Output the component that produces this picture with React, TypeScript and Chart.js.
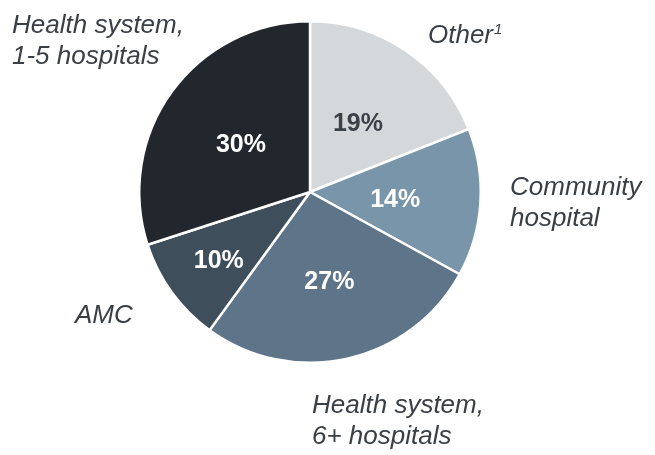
import React, { useEffect, useRef } from "react";
import { Chart, registerables } from "chart.js";

Chart.register(...registerables);

const categories = ["Other", "Community hospital", "Health system, 6+ hospitals", "AMC", "Health system, 1-5 hospitals"];
const shares = [19, 14, 27, 10, 30];
const sliceColors = ["#d5d8da", "#7995a9", "#5e7488", "#3f4e5b", "#22272e"];
const pctColors = ["#3b4148", "#ffffff", "#ffffff", "#ffffff", "#ffffff"];
const outsideLines = [["Other"], ["Community", "hospital"], ["Health system,", "6+ hospitals"], ["AMC"], ["Health system,", "1-5 hospitals"]];
const superscripts = ["1", "", "", "", ""];

// label placement relative to pie centre (layout only)
const labelOffsets = [
  { dx: 118, dy: -149 },
  { dx: 200, dy: 3 },
  { dx: 2, dy: 221 },
  { dx: -235, dy: 131 },
  { dx: -298, dy: -159 },
];
const pctRadius = [0.5, 0.5, 0.52, 0.66, 0.5];

const labelPlugin = {
  id: "labels",
  afterDraw(chart: any) {
    const ctx = chart.ctx;
    const meta = chart.getDatasetMeta(0);
    ctx.save();
    meta.data.forEach((arc: any, i: number) => {
      const { x, y, startAngle, endAngle, outerRadius } = arc.getProps(["x", "y", "startAngle", "endAngle", "outerRadius"], true);
      const mid = (startAngle + endAngle) / 2;
      const r = outerRadius * pctRadius[i];
      ctx.font = "bold 25px 'Liberation Sans', Arial, sans-serif";
      ctx.fillStyle = pctColors[i];
      ctx.textAlign = "center";
      ctx.textBaseline = "middle";
      ctx.fillText(shares[i] + "%", x + Math.cos(mid) * r, y + Math.sin(mid) * r + 3);

      ctx.font = "italic 26px 'Liberation Sans', Arial, sans-serif";
      ctx.fillStyle = "#3a3f45";
      ctx.textAlign = "left";
      ctx.textBaseline = "alphabetic";
      const ox = x + labelOffsets[i].dx;
      const oy = y + labelOffsets[i].dy;
      outsideLines[i].forEach((line, j) => {
        ctx.fillText(line, ox, oy + j * 31);
      });
      if (superscripts[i]) {
        const w = ctx.measureText(outsideLines[i][0]).width;
        ctx.font = "italic 15px 'Liberation Sans', Arial, sans-serif";
        ctx.fillText(superscripts[i], ox + w + 1, oy - 9);
      }
    });
    ctx.restore();
  },
};

export default function App() {
  const ref = useRef<HTMLCanvasElement>(null);
  useEffect(() => {
    if (!ref.current) return;
    const chart = new Chart(ref.current, {
      type: "pie",
      data: {
        labels: categories,
        datasets: [
          {
            data: shares,
            backgroundColor: sliceColors,
            borderColor: "#ffffff",
            borderWidth: 2.5,
          },
        ],
      },
      options: {
        responsive: false,
        animation: false,
        layout: { padding: { top: 20, bottom: 91, left: 138, right: 173 } },
        plugins: { legend: { display: false }, tooltip: { enabled: false } },
      },
      plugins: [labelPlugin],
    });
    return () => chart.destroy();
  }, []);
  return (
    <div style={{ position: "fixed", left: 0, top: 0, width: 655, height: 455, background: "#fff" }}>
      <canvas ref={ref} width={655} height={455} style={{ display: "block" }} />
    </div>
  );
}
